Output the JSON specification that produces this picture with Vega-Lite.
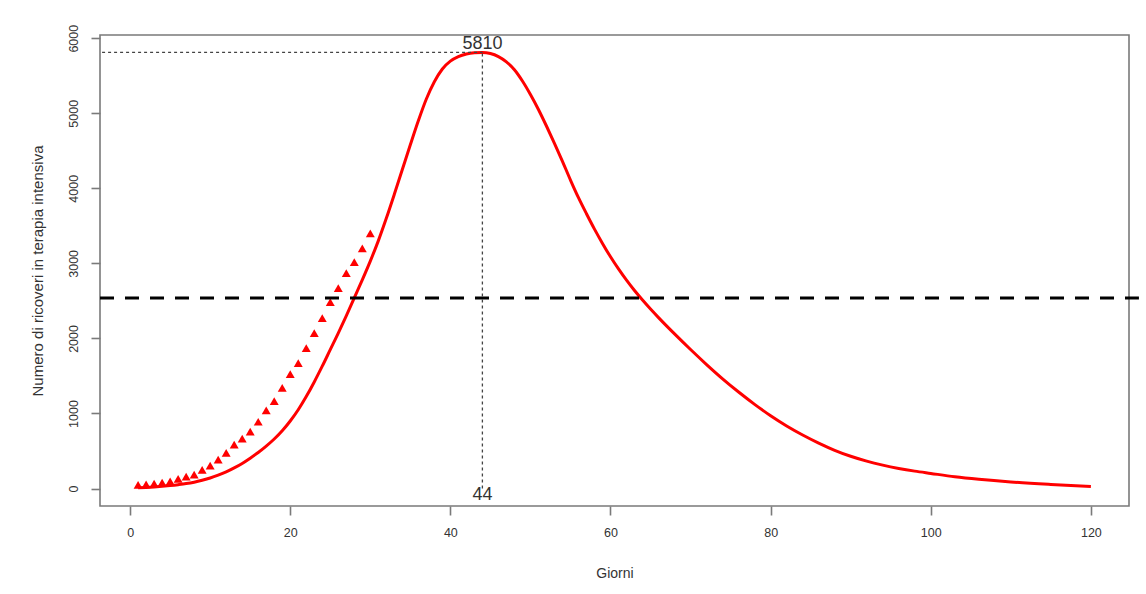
{
  "$schema": "https://vega.github.io/schema/vega-lite/v6.json",
  "width": 1029,
  "height": 471,
  "autosize": {"type": "none"},
  "padding": {"left": 100, "top": 35, "right": 17, "bottom": 88},
  "background": "white",
  "config": {
    "view": {"stroke": "#7a7a7a", "strokeWidth": 1.6},
    "font": "Liberation Sans",
    "axis": {
      "domain": false,
      "grid": false,
      "tickColor": "#7a7a7a",
      "tickWidth": 1.6,
      "tickSize": 9,
      "labelFont": "Liberation Sans",
      "labelFontSize": 12.5,
      "labelColor": "#333333",
      "titleFont": "Liberation Sans",
      "titleFontSize": 14,
      "titleFontWeight": "normal",
      "titleColor": "#333333"
    }
  },
  "datasets": {
    "curve": [
      {"giorno": 1, "ricoveri": 10}, {"giorno": 2, "ricoveri": 15}, {"giorno": 3, "ricoveri": 22},
      {"giorno": 4, "ricoveri": 30}, {"giorno": 5, "ricoveri": 40}, {"giorno": 6, "ricoveri": 52},
      {"giorno": 7, "ricoveri": 66}, {"giorno": 8, "ricoveri": 85}, {"giorno": 9, "ricoveri": 110},
      {"giorno": 10, "ricoveri": 140}, {"giorno": 11, "ricoveri": 178}, {"giorno": 12, "ricoveri": 222},
      {"giorno": 13, "ricoveri": 275}, {"giorno": 14, "ricoveri": 335}, {"giorno": 15, "ricoveri": 405},
      {"giorno": 16, "ricoveri": 480}, {"giorno": 17, "ricoveri": 565}, {"giorno": 18, "ricoveri": 660},
      {"giorno": 19, "ricoveri": 770}, {"giorno": 20, "ricoveri": 900}, {"giorno": 21, "ricoveri": 1050},
      {"giorno": 22, "ricoveri": 1225}, {"giorno": 23, "ricoveri": 1420}, {"giorno": 24, "ricoveri": 1630},
      {"giorno": 25, "ricoveri": 1850}, {"giorno": 26, "ricoveri": 2070}, {"giorno": 27, "ricoveri": 2300},
      {"giorno": 28, "ricoveri": 2540}, {"giorno": 29, "ricoveri": 2780}, {"giorno": 30, "ricoveri": 3030},
      {"giorno": 31, "ricoveri": 3300}, {"giorno": 32, "ricoveri": 3600}, {"giorno": 33, "ricoveri": 3920},
      {"giorno": 34, "ricoveri": 4250}, {"giorno": 35, "ricoveri": 4580}, {"giorno": 36, "ricoveri": 4900},
      {"giorno": 37, "ricoveri": 5190}, {"giorno": 38, "ricoveri": 5420}, {"giorno": 39, "ricoveri": 5590},
      {"giorno": 40, "ricoveri": 5695}, {"giorno": 41, "ricoveri": 5755}, {"giorno": 42, "ricoveri": 5790},
      {"giorno": 43, "ricoveri": 5806}, {"giorno": 44, "ricoveri": 5810}, {"giorno": 45, "ricoveri": 5796},
      {"giorno": 46, "ricoveri": 5755}, {"giorno": 47, "ricoveri": 5685}, {"giorno": 48, "ricoveri": 5580},
      {"giorno": 49, "ricoveri": 5430}, {"giorno": 50, "ricoveri": 5250}, {"giorno": 51, "ricoveri": 5050},
      {"giorno": 52, "ricoveri": 4830}, {"giorno": 53, "ricoveri": 4600}, {"giorno": 54, "ricoveri": 4360},
      {"giorno": 55, "ricoveri": 4110}, {"giorno": 56, "ricoveri": 3875}, {"giorno": 57, "ricoveri": 3661},
      {"giorno": 58, "ricoveri": 3456}, {"giorno": 59, "ricoveri": 3266}, {"giorno": 60, "ricoveri": 3088},
      {"giorno": 61, "ricoveri": 2926}, {"giorno": 62, "ricoveri": 2776}, {"giorno": 63, "ricoveri": 2638},
      {"giorno": 64, "ricoveri": 2511}, {"giorno": 65, "ricoveri": 2391}, {"giorno": 66, "ricoveri": 2277},
      {"giorno": 67, "ricoveri": 2167}, {"giorno": 68, "ricoveri": 2060}, {"giorno": 70, "ricoveri": 1852},
      {"giorno": 72, "ricoveri": 1652}, {"giorno": 74, "ricoveri": 1462}, {"giorno": 76, "ricoveri": 1286},
      {"giorno": 78, "ricoveri": 1122}, {"giorno": 80, "ricoveri": 970}, {"giorno": 82, "ricoveri": 834},
      {"giorno": 84, "ricoveri": 714}, {"giorno": 86, "ricoveri": 606}, {"giorno": 88, "ricoveri": 510},
      {"giorno": 90, "ricoveri": 430}, {"giorno": 92, "ricoveri": 365}, {"giorno": 94, "ricoveri": 312},
      {"giorno": 96, "ricoveri": 268}, {"giorno": 98, "ricoveri": 232}, {"giorno": 100, "ricoveri": 202},
      {"giorno": 103, "ricoveri": 158}, {"giorno": 106, "ricoveri": 124}, {"giorno": 110, "ricoveri": 88},
      {"giorno": 115, "ricoveri": 55}, {"giorno": 120, "ricoveri": 28}
    ],
    "osservati": [
      {"giorno": 1, "ricoveri": 50}, {"giorno": 2, "ricoveri": 55}, {"giorno": 3, "ricoveri": 65},
      {"giorno": 4, "ricoveri": 80}, {"giorno": 5, "ricoveri": 95}, {"giorno": 6, "ricoveri": 130},
      {"giorno": 7, "ricoveri": 160}, {"giorno": 8, "ricoveri": 185}, {"giorno": 9, "ricoveri": 250},
      {"giorno": 10, "ricoveri": 305}, {"giorno": 11, "ricoveri": 385}, {"giorno": 12, "ricoveri": 475},
      {"giorno": 13, "ricoveri": 585}, {"giorno": 14, "ricoveri": 665}, {"giorno": 15, "ricoveri": 760},
      {"giorno": 16, "ricoveri": 890}, {"giorno": 17, "ricoveri": 1040}, {"giorno": 18, "ricoveri": 1165},
      {"giorno": 19, "ricoveri": 1340}, {"giorno": 20, "ricoveri": 1525}, {"giorno": 21, "ricoveri": 1670},
      {"giorno": 22, "ricoveri": 1870}, {"giorno": 23, "ricoveri": 2070}, {"giorno": 24, "ricoveri": 2270},
      {"giorno": 25, "ricoveri": 2485}, {"giorno": 26, "ricoveri": 2670}, {"giorno": 27, "ricoveri": 2870},
      {"giorno": 28, "ricoveri": 3015}, {"giorno": 29, "ricoveri": 3200}, {"giorno": 30, "ricoveri": 3400}
    ]
  },
  "layer": [
    {
      "data": {"name": "curve"},
      "mark": {"type": "line", "color": "#ff0000", "strokeWidth": 3, "interpolate": "monotone"},
      "encoding": {
        "x": {
          "field": "giorno", "type": "quantitative",
          "scale": {"domain": [-3.76, 124.76], "nice": false, "zero": false},
          "axis": {"values": [0, 20, 40, 60, 80, 100, 120], "title": "Giorni", "labelPadding": 11, "titlePadding": 28, "labelFlush": false}
        },
        "y": {
          "field": "ricoveri", "type": "quantitative",
          "scale": {"domain": [-232.4, 6042.4], "nice": false, "zero": false},
          "axis": {"values": [0, 1000, 2000, 3000, 4000, 5000, 6000], "format": "d", "title": "Numero di ricoveri in terapia intensiva", "titleFontSize": 15, "labelAngle": 270, "labelAlign": "center", "labelBaseline": "alphabetic", "labelPadding": 14, "titlePadding": 22, "labelFlush": false}
        }
      }
    },
    {
      "data": {"name": "osservati"},
      "mark": {"type": "point", "shape": "triangle-up", "filled": true, "color": "#ff0000", "size": 80, "opacity": 1},
      "encoding": {
        "x": {"field": "giorno", "type": "quantitative"},
        "y": {"field": "ricoveri", "type": "quantitative"}
      }
    },
    {
      "data": {"values": [{}]},
      "mark": {"type": "rule", "color": "#000000", "strokeWidth": 3, "strokeDash": [14, 11], "clip": false},
      "encoding": {
        "y": {"datum": 2540},
        "x": {"datum": -3.76},
        "x2": {"datum": 126}
      }
    },
    {
      "data": {"values": [{}]},
      "mark": {"type": "rule", "color": "#444444", "strokeWidth": 1.3, "strokeDash": [3, 3]},
      "encoding": {
        "y": {"datum": 5810},
        "x": {"datum": -3.5},
        "x2": {"datum": 44}
      }
    },
    {
      "data": {"values": [{}]},
      "mark": {"type": "rule", "color": "#444444", "strokeWidth": 1.3, "strokeDash": [3, 3]},
      "encoding": {
        "x": {"datum": 44},
        "y": {"datum": 0},
        "y2": {"datum": 5810}
      }
    },
    {
      "data": {"values": [{}]},
      "mark": {"type": "text", "text": "5810", "fontSize": 18, "font": "Liberation Sans", "color": "#333333", "align": "center", "baseline": "middle", "dy": -8},
      "encoding": {
        "x": {"datum": 44},
        "y": {"datum": 5810}
      }
    },
    {
      "data": {"values": [{}]},
      "mark": {"type": "text", "text": "44", "fontSize": 18, "font": "Liberation Sans", "color": "#333333", "align": "center", "baseline": "middle", "dy": 6},
      "encoding": {
        "x": {"datum": 44},
        "y": {"datum": 0}
      }
    }
  ]
}
